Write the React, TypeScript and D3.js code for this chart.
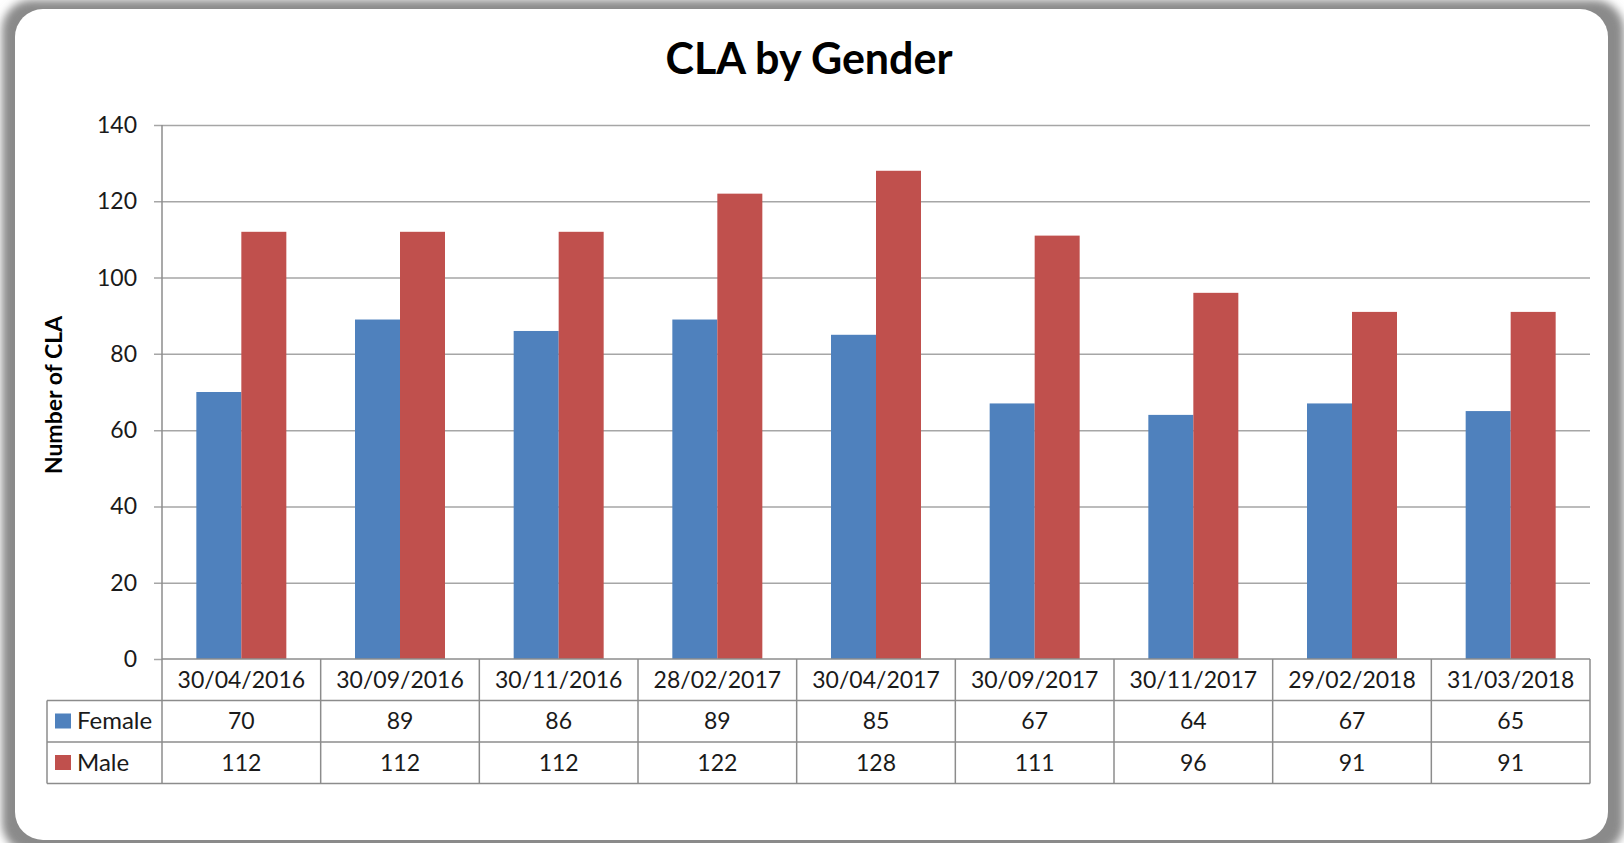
import React, { useEffect, useRef } from 'react';
import * as d3 from 'd3';

const categories = ['30/04/2016', '30/09/2016', '30/11/2016', '28/02/2017', '30/04/2017', '30/09/2017', '30/11/2017', '29/02/2018', '31/03/2018'];
const female = [70, 89, 86, 89, 85, 67, 64, 67, 65];
const male = [112, 112, 112, 122, 128, 111, 96, 91, 91];
const seriesNames = ['Female', 'Male'];
const seriesColors = ['#4F81BD', '#C0504D'];
const yTicks = [0, 20, 40, 60, 80, 100, 120, 140];

const W = 1624;
const H = 843;
const FONT = 'Lato, "Open Sans", sans-serif';

export default function App() {
  const ref = useRef(null);

  useEffect(() => {
    document.body.style.margin = '0';
    const svg = d3.select(ref.current);
    svg.selectAll('*').remove();

    // frame: grey shadow + white rounded card
    const defs = svg.append('defs');
    defs.append('filter').attr('id', 'blur')
      .attr('x', '-5%').attr('y', '-5%').attr('width', '110%').attr('height', '110%')
      .append('feGaussianBlur').attr('stdDeviation', 4);
    svg.append('rect').attr('width', W).attr('height', H).attr('fill', '#ffffff');
    svg.append('rect')
      .attr('x', 2).attr('y', 0).attr('width', W - 2).attr('height', H + 10)
      .attr('rx', 30).attr('fill', '#8a8a8a').attr('filter', 'url(#blur)');
    svg.append('rect')
      .attr('x', 15).attr('y', 9).attr('width', 1593).attr('height', 831)
      .attr('rx', 28).attr('fill', '#ffffff');

    const left = 162;
    const right = 1590;
    const top = 125;
    const bottom = 659;

    const y = d3.scaleLinear().domain([0, 140]).range([bottom, top]);
    const cols = d3.scaleBand().domain(categories).range([left, right]);
    const sub = d3.scaleBand().domain(seriesNames).range([0, cols.step()]).paddingOuter(0.763);

    // title
    svg.append('text')
      .attr('x', 809).attr('y', 74)
      .attr('text-anchor', 'middle')
      .attr('font-family', FONT).attr('font-weight', 'bold').attr('font-size', 43)
      .text('CLA by Gender');

    // y axis title
    svg.append('text')
      .attr('transform', 'translate(62,395) rotate(-90)')
      .attr('text-anchor', 'middle')
      .attr('font-family', FONT).attr('font-weight', 'bold').attr('font-size', 23)
      .text('Number of CLA');

    // gridlines + ticks
    const grid = svg.append('g');
    grid.selectAll('line').data(yTicks).enter().append('line')
      .attr('x1', left - 8).attr('x2', (d) => (d === 0 ? left : right))
      .attr('y1', (d) => y(d) + 0.5).attr('y2', (d) => y(d) + 0.5)
      .attr('stroke', '#a6a6a6').attr('stroke-width', 1.5);
    grid.selectAll('text').data(yTicks).enter().append('text')
      .attr('x', 137).attr('y', (d) => y(d) + 8)
      .attr('text-anchor', 'end')
      .attr('font-family', FONT).attr('font-size', 23).attr('fill', '#1a1a1a')
      .text((d) => d);

    // bars
    const values = [female, male];
    seriesNames.forEach((name, si) => {
      svg.append('g').selectAll('rect')
        .data(categories).enter().append('rect')
        .attr('x', (c) => cols(c) + sub(name))
        .attr('width', sub.bandwidth())
        .attr('y', (c, i) => y(values[si][i]))
        .attr('height', (c, i) => bottom - y(values[si][i]))
        .attr('fill', seriesColors[si]);
    });

    // data table
    const rowH = 41.5;
    const tableBottom = bottom + rowH * 3;
    const lineColor = '#8c8c8c';
    const tbl = svg.append('g').attr('stroke', lineColor).attr('stroke-width', 1.5);
    // axis vertical line down through the table
    tbl.append('line').attr('x1', left).attr('x2', left).attr('y1', top).attr('y2', tableBottom);
    tbl.selectAll('.v').data(categories).enter().append('line')
      .attr('x1', (c) => cols(c) + cols.step()).attr('x2', (c) => cols(c) + cols.step())
      .attr('y1', bottom).attr('y2', tableBottom);
    tbl.append('line').attr('x1', 47).attr('x2', 47).attr('y1', bottom + rowH).attr('y2', tableBottom);
    [0, 1, 2, 3].forEach((r) => {
      tbl.append('line')
        .attr('x1', r === 0 ? left : 47).attr('x2', right)
        .attr('y1', bottom + r * rowH).attr('y2', bottom + r * rowH);
    });

    const txt = svg.append('g')
      .attr('font-family', FONT).attr('font-size', 23).attr('fill', '#1a1a1a')
      .attr('text-anchor', 'middle');
    txt.selectAll('.cat').data(categories).enter().append('text')
      .attr('x', (c) => cols(c) + cols.step() / 2)
      .attr('y', bottom + rowH / 2 + 8)
      .text((c) => c);
    values.forEach((vals, si) => {
      txt.append('g').selectAll('text').data(vals).enter().append('text')
        .attr('x', (v, i) => cols(categories[i]) + cols.step() / 2)
        .attr('y', bottom + rowH * (si + 1) + rowH / 2 + 8)
        .text((v) => v);
      svg.append('rect')
        .attr('x', 55).attr('y', bottom + rowH * (si + 1) + 13)
        .attr('width', 16).attr('height', 15)
        .attr('fill', seriesColors[si]);
      svg.append('text')
        .attr('x', 77).attr('y', bottom + rowH * (si + 1) + rowH / 2 + 8)
        .attr('font-family', FONT).attr('font-size', 24).attr('fill', '#1a1a1a')
        .text(seriesNames[si]);
    });
  }, []);

  return (
    <svg ref={ref} width={W} height={H} style={{ position: 'absolute', left: 0, top: 0 }} />
  );
}
